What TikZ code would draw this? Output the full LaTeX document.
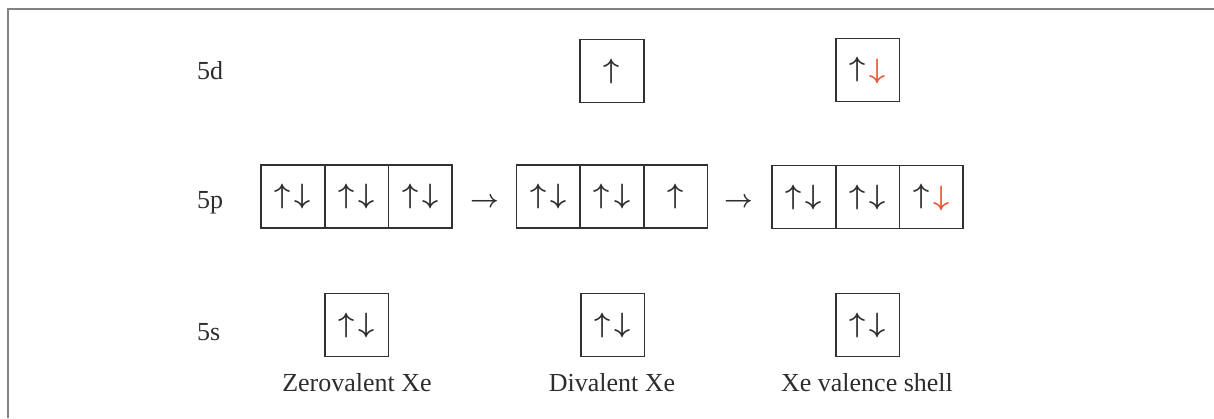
\documentclass[tikz,border=0pt]{standalone}
\usepackage{graphicx}
\usepackage{fontspec}
\setmainfont{Liberation Serif}
\definecolor{inkcol}{RGB}{45,45,45}
\definecolor{boxcol}{RGB}{50,50,50}
\definecolor{framecol}{RGB}{130,130,130}
\definecolor{spinred}{RGB}{232,88,55}
\tikzset{
  orb/.style={draw=boxcol, line width=1.6pt, minimum width=63.6pt, minimum height=63pt, inner sep=0pt},
  spintext/.style={inner sep=0pt, text=inkcol},
  lbl/.style={inner sep=0pt, text=inkcol, font=\fontsize{26}{30}\selectfont},
  rarrow/.style={inner sep=0pt, text=inkcol}
}
\newcommand{\spinup}{\scalebox{2.8}{\boldmath$\uparrow$}}
\newcommand{\spindown}{\scalebox{2.8}{\boldmath$\downarrow$}}
\newcommand{\pairspin}{\spinup\kern4pt\spindown}
\newcommand{\pairspinred}{\spinup\kern4pt\textcolor{spinred}{\raisebox{-2pt}{\spindown}}}
\newcommand{\upspin}{\spinup}
\newcommand{\rarr}{\scalebox{2.5}{\boldmath$\rightarrow$}}
\begin{document}
\begin{tikzpicture}[x=1pt,y=-1pt]
\useasboundingbox (0,0) rectangle (1214,418);
% frame
\draw[framecol, line width=2pt] (8,418) -- (8,9) -- (1214,9);
% level labels
\node[lbl, anchor=base west] (l5d) at (197,79) {5d};
\node[lbl, anchor=base west] (l5p) at (197,208) {5p};
\node[lbl, anchor=base west] (l5s) at (197,340) {5s};
% 5d
\node[orb] (d2) at (612,71) {};
\node[orb] (d3) at (867.5,70) {};
\node[spintext] at (d2) {\upspin};
\node[spintext] at (d3) {\pairspinred};
% 5p row 1
\node[orb] (pa1) at (292.9,196.5) {};
\node[orb] (pa2) at (356.5,196.5) {};
\node[orb] (pa3) at (420.1,196.5) {};
\node[spintext] at (pa1) {\pairspin};
\node[spintext] at (pa2) {\pairspin};
\node[spintext] at (pa3) {\pairspin};
% 5p row 2
\node[orb] (pb1) at (548.4,196.5) {};
\node[orb] (pb2) at (612,196.5) {};
\node[orb] (pb3) at (675.6,196.5) {};
\node[spintext] at (pb1) {\pairspin};
\node[spintext] at (pb2) {\pairspin};
\node[spintext] at (pb3) {\upspin};
% 5p row 3
\node[orb] (pc1) at (803.9,197) {};
\node[orb] (pc2) at (867.5,197) {};
\node[orb] (pc3) at (931.1,197) {};
\node[spintext] at (pc1) {\pairspin};
\node[spintext] at (pc2) {\pairspin};
\node[spintext] at (pc3) {\pairspinred};
% transition arrows
\node[rarrow, anchor=base] (ar1) at (484.5,207.5) {\rarr};
\node[rarrow, anchor=base] (ar2) at (738.5,207.5) {\rarr};
% 5s
\node[orb] (s1) at (356.5,325) {};
\node[orb] (s2) at (612.5,325) {};
\node[orb] (s3) at (867.5,325) {};
\node[spintext] at (s1) {\pairspin};
\node[spintext] at (s2) {\pairspin};
\node[spintext] at (s3) {\pairspin};
% captions
\node[lbl, anchor=base] (c1) at (357,391) {Zerovalent Xe};
\node[lbl, anchor=base] (c2) at (612,391) {Divalent Xe};
\node[lbl, anchor=base] (c3) at (867,391) {Xe valence shell};
\end{tikzpicture}
\end{document}
